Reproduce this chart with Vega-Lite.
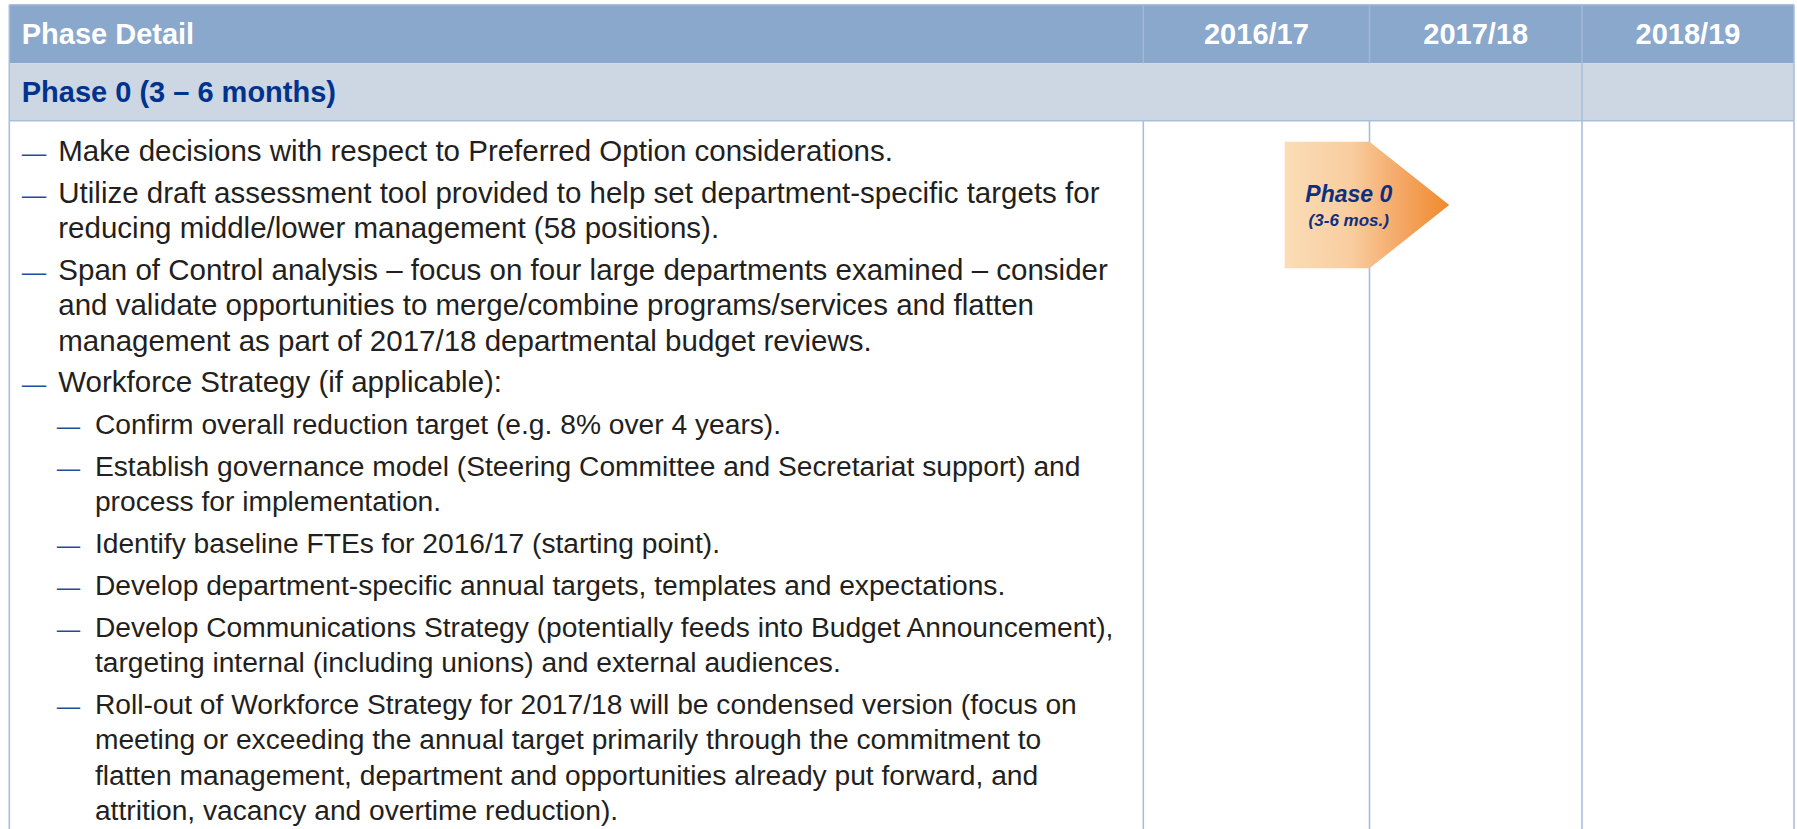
{
  "$schema": "https://vega.github.io/schema/vega-lite/v6.json",
  "width": 1797,
  "height": 829,
  "padding": 0,
  "autosize": {"type": "none"},
  "background": "#ffffff",
  "config": {"view": {"stroke": null}, "font": "Liberation Sans"},
  "datasets": {
    "bands": [
      {"part": "header", "c0": 0, "c1": 4, "r0": 0, "r1": 1},
      {"part": "phase", "c0": 0, "c1": 4, "r0": 1, "r1": 2}
    ],
    "rules": [
      {"kind": "grid", "c0": 0, "c1": 0, "r0": 0, "r1": 3},
      {"kind": "grid", "c0": 4, "c1": 4, "r0": 0, "r1": 3},
      {"kind": "grid", "c0": 0, "c1": 4, "r0": 0, "r1": 0},
      {"kind": "grid", "c0": 0, "c1": 4, "r0": 2, "r1": 2},
      {"kind": "grid", "c0": 3, "c1": 3, "r0": 1, "r1": 3},
      {"kind": "grid", "c0": 1, "c1": 1, "r0": 2, "r1": 3},
      {"kind": "grid", "c0": 2, "c1": 2, "r0": 2, "r1": 3},
      {"kind": "divider", "c0": 1, "c1": 1, "r0": 0, "r1": 1},
      {"kind": "divider", "c0": 2, "c1": 2, "r0": 0, "r1": 1},
      {"kind": "divider", "c0": 3, "c1": 3, "r0": 0, "r1": 1}
    ],
    "headings": [
      {"text": "Phase Detail", "row": 0, "level": 0, "kind": "header"},
      {"text": "Phase 0 (3 – 6 months)", "row": 1, "level": 0, "kind": "phase"}
    ],
    "years": [
      {"year": "2016/17", "mid": 6, "row": 0},
      {"year": "2017/18", "mid": 18, "row": 0},
      {"year": "2018/19", "mid": 30, "row": 0}
    ],
    "phase": [
      {"month": 7.5, "upper": 1, "lower": -1},
      {"month": 12, "upper": 1, "lower": -1},
      {"month": 16.5, "upper": 0, "lower": 0}
    ],
    "phaseLabels": [
      {"text": "Phase 0", "month": 10.9, "v": 0.04, "kind": "name"},
      {"text": "(3-6 mos.)", "month": 10.9, "v": -0.33, "kind": "dur"}
    ],
    "bullets": [
      {"item": 0, "line": 0, "level": 1},
      {"item": 1, "line": 1, "level": 1},
      {"item": 2, "line": 3, "level": 1},
      {"item": 3, "line": 6, "level": 1},
      {"item": 4, "line": 7, "level": 2},
      {"item": 5, "line": 8, "level": 2},
      {"item": 6, "line": 10, "level": 2},
      {"item": 7, "line": 11, "level": 2},
      {"item": 8, "line": 12, "level": 2},
      {"item": 9, "line": 14, "level": 2}
    ],
    "lines": [
      {"item": 0, "line": 0, "level": 1, "text": "Make decisions with respect to Preferred Option considerations."},
      {"item": 1, "line": 1, "level": 1, "text": "Utilize draft assessment tool provided to help set department-specific targets for"},
      {"item": 1, "line": 2, "level": 1, "text": "reducing middle/lower management (58 positions)."},
      {"item": 2, "line": 3, "level": 1, "text": "Span of Control analysis – focus on four large departments examined – consider"},
      {"item": 2, "line": 4, "level": 1, "text": "and validate opportunities to merge/combine programs/services and flatten"},
      {"item": 2, "line": 5, "level": 1, "text": "management as part of 2017/18 departmental budget reviews."},
      {"item": 3, "line": 6, "level": 1, "text": "Workforce Strategy (if applicable):"},
      {"item": 4, "line": 7, "level": 2, "text": "Confirm overall reduction target (e.g. 8% over 4 years)."},
      {"item": 5, "line": 8, "level": 2, "text": "Establish governance model (Steering Committee and Secretariat support) and"},
      {"item": 5, "line": 9, "level": 2, "text": "process for implementation."},
      {"item": 6, "line": 10, "level": 2, "text": "Identify baseline FTEs for 2016/17 (starting point)."},
      {"item": 7, "line": 11, "level": 2, "text": "Develop department-specific annual targets, templates and expectations."},
      {"item": 8, "line": 12, "level": 2, "text": "Develop Communications Strategy (potentially feeds into Budget Announcement),"},
      {"item": 8, "line": 13, "level": 2, "text": "targeting internal (including unions) and external audiences."},
      {"item": 9, "line": 14, "level": 2, "text": "Roll-out of Workforce Strategy for 2017/18 will be condensed version (focus on"},
      {"item": 9, "line": 15, "level": 2, "text": "meeting or exceeding the annual target primarily through the commitment to"},
      {"item": 9, "line": 16, "level": 2, "text": "flatten management, department and opportunities already put forward, and"},
      {"item": 9, "line": 17, "level": 2, "text": "attrition, vacancy and overtime reduction)."}
    ]
  },
  "resolve": {"scale": {"x": "independent", "y": "independent", "color": "independent", "size": "independent"}},
  "layer": [
    {
      "data": {"name": "bands"},
      "mark": {"type": "rect"},
      "encoding": {
        "x": {"field": "c0", "type": "quantitative", "scale": {"domain": [0, 1, 2, 3, 4], "range": [9.3, 1143.3, 1369.5, 1582, 1794], "nice": false, "zero": false}, "axis": null},
        "x2": {"field": "c1"},
        "y": {"field": "r0", "type": "quantitative", "scale": {"domain": [0, 1, 2, 3], "range": [4.7, 63.3, 120.7, 829], "nice": false, "zero": false}, "axis": null},
        "y2": {"field": "r1"},
        "color": {"field": "part", "type": "nominal", "scale": {"domain": ["header", "phase"], "range": ["#8AA7CC", "#CDD7E3"]}, "legend": null}
      }
    },
    {
      "data": {"name": "rules"},
      "transform": [{"filter": "datum.kind === 'divider'"}],
      "mark": {"type": "rule", "color": "#A2B8D8", "strokeWidth": 1.5},
      "encoding": {
        "x": {"field": "c0", "type": "quantitative", "scale": {"domain": [0, 1, 2, 3, 4], "range": [9.3, 1143.3, 1369.5, 1582, 1794], "nice": false, "zero": false}, "axis": null},
        "x2": {"field": "c1"},
        "y": {"field": "r0", "type": "quantitative", "scale": {"domain": [0, 1, 2, 3], "range": [4.7, 63.3, 120.7, 829], "nice": false, "zero": false}, "axis": null},
        "y2": {"field": "r1"}
      }
    },
    {
      "data": {"name": "rules"},
      "transform": [{"filter": "datum.kind === 'grid'"}],
      "mark": {"type": "rule", "color": "#A9BEDC", "strokeWidth": 1.6},
      "encoding": {
        "x": {"field": "c0", "type": "quantitative", "scale": {"domain": [0, 1, 2, 3, 4], "range": [9.3, 1143.3, 1369.5, 1582, 1794], "nice": false, "zero": false}, "axis": null},
        "x2": {"field": "c1"},
        "y": {"field": "r0", "type": "quantitative", "scale": {"domain": [0, 1, 2, 3], "range": [4.7, 63.3, 120.7, 829], "nice": false, "zero": false}, "axis": null},
        "y2": {"field": "r1"}
      }
    },
    {
      "data": {"name": "phase"},
      "mark": {
        "type": "area",
        "interpolate": "linear",
        "line": false,
        "fillOpacity": 1,
        "color": {
          "gradient": "linear",
          "x1": 0, "y1": 0, "x2": 1, "y2": 0,
          "stops": [
            {"offset": 0, "color": "#FBDDB6"},
            {"offset": 0.4, "color": "#F9CDA0"},
            {"offset": 0.72, "color": "#F4A663"},
            {"offset": 1, "color": "#EF8A2C"}
          ]
        }
      },
      "encoding": {
        "x": {"field": "month", "type": "quantitative", "scale": {"domain": [0, 12, 24, 36], "range": [1143.3, 1369.5, 1582, 1794], "nice": false, "zero": false}, "axis": null},
        "y": {"field": "upper", "type": "quantitative", "scale": {"domain": [-1, 1], "range": [268.3, 141.7], "nice": false, "zero": false}, "axis": null},
        "y2": {"field": "lower"}
      }
    },
    {
      "data": {"name": "phaseLabels"},
      "mark": {"type": "text", "align": "center", "baseline": "alphabetic", "fontWeight": "bold", "fontStyle": "italic", "color": "#0E2F80"},
      "encoding": {
        "x": {"field": "month", "type": "quantitative", "scale": {"domain": [0, 12, 24, 36], "range": [1143.3, 1369.5, 1582, 1794], "nice": false, "zero": false}, "axis": null},
        "y": {"field": "v", "type": "quantitative", "scale": {"domain": [-1, 1], "range": [268.3, 141.7], "nice": false, "zero": false}, "axis": null},
        "text": {"field": "text", "type": "nominal"},
        "size": {"field": "kind", "type": "nominal", "scale": {"domain": ["name", "dur"], "range": [23, 17]}, "legend": null}
      }
    },
    {
      "data": {"name": "headings"},
      "mark": {"type": "text", "align": "left", "baseline": "middle", "fontWeight": "bold", "fontSize": 29},
      "encoding": {
        "x": {"field": "level", "type": "quantitative", "scale": {"domain": [0, 2], "range": [21.7, 94.9], "nice": false, "zero": false}, "axis": null},
        "y": {"field": "row", "type": "quantitative", "scale": {"domain": [0, 1], "range": [35, 93], "nice": false, "zero": false}, "axis": null},
        "text": {"field": "text", "type": "nominal"},
        "color": {"field": "kind", "type": "nominal", "scale": {"domain": ["header", "phase"], "range": ["#FFFFFF", "#00338D"]}, "legend": null}
      }
    },
    {
      "data": {"name": "years"},
      "mark": {"type": "text", "align": "center", "baseline": "middle", "fontWeight": "bold", "fontSize": 29, "color": "#FFFFFF"},
      "encoding": {
        "x": {"field": "mid", "type": "quantitative", "scale": {"domain": [0, 12, 24, 36], "range": [1143.3, 1369.5, 1582, 1794], "nice": false, "zero": false}, "axis": null},
        "y": {"field": "row", "type": "quantitative", "scale": {"domain": [0, 1], "range": [35, 93], "nice": false, "zero": false}, "axis": null},
        "text": {"field": "year", "type": "nominal"}
      }
    },
    {
      "data": {"name": "bullets"},
      "mark": {"type": "text", "align": "left", "baseline": "alphabetic", "color": "#1F4E9F", "text": "—"},
      "encoding": {
        "x": {"field": "level", "type": "quantitative", "scale": {"domain": [1, 2], "range": [21.7, 56.7], "nice": false, "zero": false}, "axis": null},
        "y": {"field": "line", "type": "ordinal", "scale": {"type": "point", "domain": [0, 1, 2, 3, 4, 5, 6, 7, 8, 9, 10, 11, 12, 13, 14, 15, 16, 17], "range": [160.7, 762.5], "padding": 0}, "axis": null},
        "yOffset": {"field": "item", "type": "quantitative", "scale": {"domain": [0, 9], "range": [0, 57.6], "nice": false, "zero": false}},
        "size": {"field": "level", "type": "quantitative", "scale": {"domain": [1, 2], "range": [24.5, 23.4], "nice": false, "zero": false}, "legend": null}
      }
    },
    {
      "data": {"name": "lines"},
      "mark": {"type": "text", "align": "left", "baseline": "alphabetic", "color": "#231F20"},
      "encoding": {
        "x": {"field": "level", "type": "quantitative", "scale": {"domain": [0, 2], "range": [21.7, 94.9], "nice": false, "zero": false}, "axis": null},
        "y": {"field": "line", "type": "ordinal", "scale": {"type": "point", "domain": [0, 1, 2, 3, 4, 5, 6, 7, 8, 9, 10, 11, 12, 13, 14, 15, 16, 17], "range": [160.7, 762.5], "padding": 0}, "axis": null},
        "yOffset": {"field": "item", "type": "quantitative", "scale": {"domain": [0, 9], "range": [0, 57.6], "nice": false, "zero": false}},
        "size": {"field": "level", "type": "quantitative", "scale": {"domain": [1, 2], "range": [29.5, 28.2], "nice": false, "zero": false}, "legend": null},
        "text": {"field": "text", "type": "nominal"}
      }
    }
  ]
}
